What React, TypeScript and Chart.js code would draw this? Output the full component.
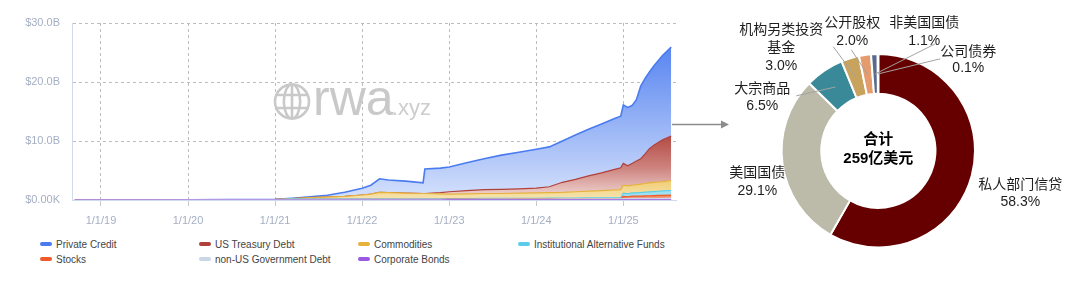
import React, { useEffect, useRef } from 'react';
import { Chart, registerables } from 'chart.js';

Chart.register(...registerables);

// ---------- Left chart data (values in $B, per layer, stacked) ----------
const dates = [
  2018.7, 2019.0, 2019.5, 2020.0, 2020.5, 2021.0, 2021.2, 2021.4, 2021.6, 2021.8,
  2022.0, 2022.1, 2022.2, 2022.3, 2022.5, 2022.7, 2022.72, 2022.9, 2023.0, 2023.2,
  2023.4, 2023.6, 2023.8, 2024.0, 2024.15, 2024.3, 2024.45, 2024.6, 2024.75, 2024.9,
  2024.97, 2025.0, 2025.05, 2025.1, 2025.15, 2025.2, 2025.25, 2025.3, 2025.35, 2025.4,
  2025.45, 2025.55,
];

const corporateBonds = [
  0, 0, 0, 0, 0, 0, 0, 0, 0, 0, 0, 0, 0, 0, 0, 0, 0, 0,
  0.01, 0.01, 0.01, 0.01, 0.01, 0.01, 0.01, 0.01, 0.01, 0.01, 0.01, 0.01, 0.01,
  0.03, 0.03, 0.03, 0.03, 0.03, 0.03, 0.03, 0.03, 0.03, 0.03, 0.03,
];
const nonUSGovDebt = [
  0.02, 0.03, 0.04, 0.05, 0.06, 0.07, 0.08, 0.09, 0.1, 0.1, 0.1, 0.1, 0.1, 0.1, 0.1, 0.1, 0.1, 0.1,
  0.12, 0.12, 0.13, 0.14, 0.15, 0.15, 0.16, 0.17, 0.18, 0.19, 0.2, 0.2, 0.2,
  0.22, 0.22, 0.23, 0.24, 0.24, 0.25, 0.25, 0.26, 0.27, 0.27, 0.28,
];
const stocks = [
  0, 0, 0, 0, 0, 0, 0, 0, 0, 0, 0, 0, 0, 0, 0, 0, 0, 0,
  0.02, 0.02, 0.02, 0.02, 0.02, 0.02, 0.02, 0.02, 0.02, 0.02, 0.02, 0.02, 0.02,
  0.35, 0.3, 0.4, 0.38, 0.4, 0.42, 0.44, 0.46, 0.48, 0.5, 0.52,
];
const instAltFunds = [
  0, 0, 0, 0, 0, 0, 0.1, 0.1, 0.1, 0.1, 0.1, 0.1, 0.1, 0.1, 0.1, 0.1, 0.1, 0.1,
  0.1, 0.1, 0.11, 0.11, 0.12, 0.12, 0.12, 0.13, 0.13, 0.14, 0.14, 0.15, 0.15,
  0.55, 0.5, 0.55, 0.55, 0.6, 0.62, 0.65, 0.68, 0.7, 0.74, 0.78,
];
const commodities = [
  0, 0, 0, 0, 0.01, 0.02, 0.07, 0.21, 0.3, 0.4, 0.65, 0.8, 1.1, 1.05, 0.95, 0.9, 0.9, 0.85,
  0.75, 0.8, 0.83, 0.82, 0.85, 0.9, 0.94, 0.97, 1.06, 1.14, 1.23, 1.32, 1.37,
  1.35, 1.35, 1.29, 1.4, 1.43, 1.48, 1.53, 1.57, 1.57, 1.56, 1.69,
];
const usTreasuryDebt = [
  0, 0, 0, 0, 0, 0, 0, 0, 0, 0, 0, 0, 0, 0, 0, 0, 0, 0.2,
  0.4, 0.55, 0.65, 0.7, 0.75, 0.8, 1.0, 1.7, 2.1, 2.6, 3.0, 3.5, 3.7,
  3.7, 3.4, 3.7, 4.0, 4.3, 5.0, 5.8, 6.3, 6.7, 7.1, 7.55,
];
const privateCredit = [
  0, 0, 0, 0, 0.01, 0.01, 0.05, 0.15, 0.3, 0.7, 1.15, 1.5, 2.3, 2.15, 2.05, 1.8, 4.15, 4.15,
  4.2, 4.7, 5.25, 5.8, 6.2, 6.6, 6.75, 7.0, 7.5, 7.9, 8.3, 8.6, 8.75,
  9.9, 9.9, 9.8, 10.4, 12.3, 12.8, 13.0, 13.4, 13.85, 14.3, 15.05,
];

const seriesNames = [
  'Corporate Bonds', 'non-US Government Debt', 'Stocks', 'Institutional Alternative Funds',
  'Commodities', 'US Treasury Debt', 'Private Credit',
];
const seriesValues = [corporateBonds, nonUSGovDebt, stocks, instAltFunds, commodities, usTreasuryDebt, privateCredit];

const xTickYears = [2019, 2020, 2021, 2022, 2023, 2024, 2025];
const xTickLabels = ['1/1/19', '1/1/20', '1/1/21', '1/1/22', '1/1/23', '1/1/24', '1/1/25'];
const yTickLabels = ['$0.00K', '$10.0B', '$20.0B', '$30.0B'];

// legend layout (series indices, row-major, 4 columns)
const legendOrder = [6, 5, 4, 3, 2, 1, 0];

// ---------- Right chart data ----------
const pieNames = ['私人部门信贷', '美国国债', '大宗商品', '机构另类投资\n基金', '公开股权', '非美国国债', '公司债券'];
const pieValues = [58.3, 29.1, 6.5, 3.0, 2.0, 1.1, 0.1];
const centerLines = ['合计', '259亿美元'];

// ---------- Styles ----------
const seriesStyles = [
  { line: '#9B58E2', stops: [[0, '#A86CE6'], [1, '#B98AEC']] },
  { line: '#C9D6E6', stops: [[0, '#D3DEEA'], [1, '#DDE6F0']] },
  { line: '#EE5A2A', stops: [[0, '#F06A3A'], [1, '#F58A62']] },
  { line: '#5CCDE8', stops: [[0, '#6BD3EC'], [1, '#9FE2F2']] },
  { line: '#E6B23C', stops: [[0, '#EBBE4E'], [0.85, '#EEC65E'], [1, '#F7E4B2']] },
  { line: '#B0403A', stops: [[0, '#9E2B25'], [0.6, '#AE3E38'], [0.82, '#CE847F'], [1, '#F3DEDC']] },
  { line: '#4A7CF0', stops: [[0, '#4677EF'], [0.5, '#8DACF5'], [1, '#D6E2FC']] },
];
const pieColors = ['#660000', '#BCBAA8', '#3A8999', '#C8A35E', '#E59B6B', '#5A6A8E', '#8A4E6E'];
// label placement relative to doughnut centre: first-line centre, line height, optional leader-line end
const pieLabelLayout = [
  { dx: 142, dy: 34, lh: 17.5, line: null },
  { dx: -121, dy: 22, lh: 18.5, line: null },
  { dx: -116, dy: -61.5, lh: 16.5, line: [-82, -55] },
  { dx: -97, dy: -120.5, lh: 18, line: [-45, -104] },
  { dx: -26, dy: -128, lh: 18, line: [-27, -101] },
  { dx: 46, dy: -128, lh: 18, line: [57, -107] },
  { dx: 90, dy: -99, lh: 16.6, line: [62, -92] },
];

const FONT = '"Liberation Sans", Arial, "Noto Sans CJK SC", sans-serif';
const axisColor = '#A5AFC3';

function vGrad(chart: any, stops: any[]) {
  const area = chart.chartArea;
  if (!area) return stops[stops.length - 1][1];
  const g = chart.ctx.createLinearGradient(0, area.top, 0, area.bottom);
  stops.forEach(([o, c]: any) => g.addColorStop(o, c));
  return g;
}

const watermarkPlugin = {
  id: 'watermark',
  beforeDatasetsDraw(chart: any) {
    const ctx = chart.ctx;
    ctx.save();
    const gx = 292, gy = 101.5, r = 17;
    ctx.strokeStyle = '#C9C9C9';
    ctx.lineWidth = 2.6;
    ctx.beginPath();
    ctx.arc(gx, gy, r, 0, Math.PI * 2);
    ctx.stroke();
    ctx.beginPath();
    ctx.ellipse(gx, gy, r * 0.48, r, 0, 0, Math.PI * 2);
    ctx.stroke();
    ctx.beginPath();
    ctx.moveTo(gx, gy - r);
    ctx.lineTo(gx, gy + r);
    ctx.moveTo(gx - r * 0.93, gy - r * 0.38);
    ctx.lineTo(gx + r * 0.93, gy - r * 0.38);
    ctx.moveTo(gx - r * 0.93, gy + r * 0.38);
    ctx.lineTo(gx + r * 0.93, gy + r * 0.38);
    ctx.stroke();
    ctx.fillStyle = '#C9C9C9';
    ctx.textBaseline = 'alphabetic';
    ctx.textAlign = 'left';
    ctx.font = `50px ${FONT}`;
    ctx.fillText('rwa', 313, 115);
    ctx.fillStyle = '#CDCDCD';
    ctx.font = `22px ${FONT}`;
    ctx.fillText('.xyz', 392, 115);
    ctx.restore();
  },
};

const pieLabelPlugin = {
  id: 'pieLabels',
  afterDraw(chart: any) {
    const meta = chart.getDatasetMeta(0);
    const ctx = chart.ctx;
    const first = meta.data[0];
    const cx = first.x, cy = first.y;
    ctx.save();
    meta.data.forEach((arc: any, i: number) => {
      const lay = pieLabelLayout[i];
      if (!lay.line) return;
      const p = arc.getProps(['startAngle', 'endAngle', 'innerRadius', 'outerRadius'], true);
      const mid = (p.startAngle + p.endAngle) / 2;
      const r = (p.innerRadius + p.outerRadius) / 2;
      ctx.strokeStyle = '#A3A3A3';
      ctx.lineWidth = 1;
      ctx.beginPath();
      ctx.moveTo(cx + Math.cos(mid) * r, cy + Math.sin(mid) * r);
      ctx.lineTo(cx + lay.line[0], cy + lay.line[1]);
      ctx.stroke();
    });
    ctx.fillStyle = '#1E1E1E';
    ctx.textAlign = 'center';
    ctx.textBaseline = 'middle';
    ctx.font = `14px ${FONT}`;
    pieNames.forEach((name, i) => {
      const lay = pieLabelLayout[i];
      const lines = [...name.split('\n'), pieValues[i].toFixed(1) + '%'];
      lines.forEach((t, j) => ctx.fillText(t, cx + lay.dx, cy + lay.dy + j * lay.lh));
    });
    ctx.fillStyle = '#000';
    ctx.font = `bold 15px ${FONT}`;
    ctx.fillText(centerLines[0], cx, cy - 11);
    ctx.fillText(centerLines[1], cx, cy + 8.5);
    ctx.restore();
  },
};

export default function App() {
  const lineRef = useRef<HTMLCanvasElement>(null);
  const pieRef = useRef<HTMLCanvasElement>(null);

  useEffect(() => {
    const datasets = seriesValues.map((vals, i) => ({
      label: seriesNames[i],
      data: dates.map((d, k) => ({ x: d, y: vals[k] })),
      borderColor: seriesStyles[i].line,
      borderWidth: i === 6 ? 1.6 : 1.2,
      backgroundColor: (c: any) => vGrad(c.chart, seriesStyles[i].stops),
      fill: i === 0 ? 'origin' : '-1',
      pointRadius: 0,
      tension: 0,
    }));

    const lineChart = new Chart(lineRef.current as HTMLCanvasElement, {
      type: 'line',
      data: { datasets },
      plugins: [watermarkPlugin],
      options: {
        animation: false,
        responsive: false,
        layout: { padding: { top: 23, right: 4, left: 0, bottom: 0 } },
        plugins: { legend: { display: false }, tooltip: { enabled: false } },
        scales: {
          x: {
            type: 'linear',
            min: 2018.667,
            max: 2025.605,
            afterBuildTicks: (scale: any) => {
              scale.ticks = xTickYears.map((v) => ({ value: v }));
            },
            afterFit: (scale: any) => {
              scale.height = 30;
            },
            grid: {
              color: '#BDBDBD',
              lineWidth: 1,
              borderDash: [3, 3],
              drawTicks: true,
              tickLength: 6,
              tickColor: '#C8C8C8',
              tickBorderDash: [],
            },
            border: { display: true, color: '#CFDAEC', width: 1, dash: [3, 3] },
            ticks: {
              autoSkip: false,
              maxRotation: 0,
              padding: 8,
              color: axisColor,
              font: { family: FONT, size: 11 },
              callback: (_v: any, idx: number) => xTickLabels[idx],
            },
          },
          y: {
            type: 'linear',
            stacked: true,
            min: 0,
            max: 30,
            afterFit: (scale: any) => {
              scale.width = 72;
            },
            grid: { color: '#BDBDBD', lineWidth: 1, borderDash: [3, 3], drawTicks: false },
            border: { display: true, color: '#CFDAEC', width: 1, dash: [3, 3] },
            ticks: {
              stepSize: 10,
              padding: 12,
              color: axisColor,
              font: { family: FONT, size: 11 },
              callback: (_v: any, idx: number) => yTickLabels[idx],
            },
          },
        },
      } as any,
    });

    const pieChart = new Chart(pieRef.current as HTMLCanvasElement, {
      type: 'doughnut',
      data: {
        labels: pieNames,
        datasets: [
          {
            data: pieValues,
            backgroundColor: pieColors,
            borderColor: '#FFFFFF',
            borderWidth: 2,
          },
        ],
      },
      plugins: [pieLabelPlugin],
      options: {
        animation: false,
        responsive: false,
        cutout: '59%',
        layout: { padding: { left: 100.6, right: 104, top: 53, bottom: 35.4 } },
        plugins: { legend: { display: false }, tooltip: { enabled: false } },
      } as any,
    });

    return () => {
      lineChart.destroy();
      pieChart.destroy();
    };
  }, []);

  const colX = [40, 199, 358, 518];
  const rowY = [244, 259];

  return (
    <div style={{ position: 'absolute', left: 0, top: 0, width: 1080, height: 284, background: '#fff', overflow: 'hidden' }}>
      <canvas ref={lineRef} width={680} height={230} style={{ position: 'absolute', left: 0, top: 0 }} />
      <canvas ref={pieRef} width={400} height={284} style={{ position: 'absolute', left: 680, top: 0 }} />
      {legendOrder.map((si, k) => (
        <div
          key={si}
          style={{
            position: 'absolute',
            left: colX[k % 4],
            top: rowY[Math.floor(k / 4)] - 7,
            height: 14,
            display: 'flex',
            alignItems: 'center',
            whiteSpace: 'nowrap',
            fontFamily: FONT,
            fontSize: 10,
            color: '#444',
          }}
        >
          <span style={{ display: 'inline-block', width: 12, height: 4, borderRadius: 2, background: seriesStyles[si].line, marginRight: 4 }} />
          <span>{seriesNames[si]}</span>
        </div>
      ))}
      <svg width={1080} height={284} style={{ position: 'absolute', left: 0, top: 0, pointerEvents: 'none' }}>
        <line x1={672} y1={124.5} x2={722} y2={124.5} stroke="#8C8C8C" strokeWidth={1.3} />
        <polygon points="721,120.5 729,124.5 721,128.5" fill="#8C8C8C" />
      </svg>
    </div>
  );
}
